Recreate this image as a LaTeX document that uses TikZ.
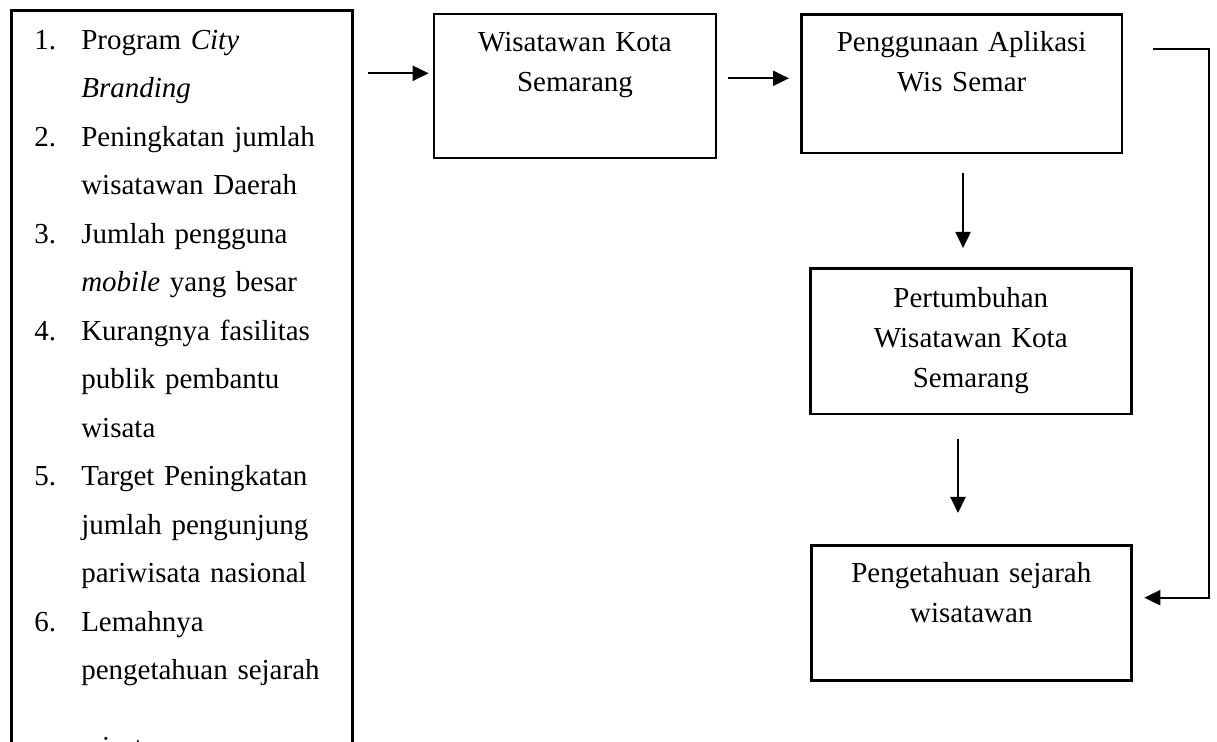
\documentclass[tikz,border=0pt]{standalone}
\usepackage{fontspec}
\setmainfont{Liberation Serif}
\usepackage{tikz}
\usetikzlibrary{arrows.meta,positioning,calc}

\newcommand{\numitem}[1]{\hspace*{11.5pt}\makebox[23.5pt][l]{#1}}
\newcommand{\contitem}{\hspace*{35pt}}

\tikzset{
        stage/.style={draw, line width=1.3pt, anchor=north west, inner xsep=0pt, inner ysep=0pt,
                align=center, font=\fontsize{14.5pt}{20pt}\selectfont},
        flow/.style={line width=1pt, -{Triangle[length=8pt,width=7.5pt]}}
}

\begin{document}
\begin{tikzpicture}[x=0.5pt, y=-0.5pt]
        \useasboundingbox (0,0) rectangle (1217,742);
        \clip (0,0) rectangle (1217,742);

        % latar belakang
        \node[draw, line width=1.3pt, anchor=north west, inner xsep=0pt, inner ysep=0pt,
                text width=170.5pt, align=left, text height=19.35pt, text depth=380pt,
                font=\fontsize{14.5pt}{24.25pt}\selectfont] (latar) at (10,9.3) {
                \numitem{1.}Program \textit{City}\\
                \contitem\textit{Branding}\\
                \numitem{2.}Peningkatan jumlah\\
                \contitem wisatawan Daerah\\
                \numitem{3.}Jumlah pengguna\\
                \contitem\textit{mobile} yang besar\\
                \numitem{4.}Kurangnya fasilitas\\
                \contitem publik pembantu\\
                \contitem wisata\\
                \numitem{5.}Target Peningkatan\\
                \contitem jumlah pengunjung\\
                \contitem pariwisata nasional\\
                \numitem{6.}Lemahnya\\
                \contitem pengetahuan sejarah\\[14pt]
                \contitem wisatawan
        };

        % alur
        \node[stage, text width=141pt, text height=18.65pt, text depth=53.35pt] (wisata) at (432.7,12.7)
                {Wisatawan Kota\\Semarang};
        \node[stage, text width=160.35pt, text height=18.35pt, text depth=50.85pt] (aplikasi) at (800,13.3)
                {Penggunaan Aplikasi\\Wis Semar};
        \node[stage, text width=160.5pt, text height=19.85pt, text depth=53pt] (tumbuh) at (809,267)
                {Pertumbuhan\\Wisatawan Kota\\Semarang};
        \node[stage, text width=160pt, text height=18.85pt, text depth=48.65pt] (sejarah) at (810,544)
                {Pengetahuan sejarah\\wisatawan};

        \coordinate (balik) at (1209,0);

        \draw[flow] ([xshift=7pt]latar.east |- 0,73.3) -- ([xshift=-2pt]wisata.west |- 0,73.3);
        \draw[flow] ([xshift=5.5pt]wisata.east |- 0,78.3) -- ([xshift=-5.5pt]aplikasi.west |- 0,78.3);
        \draw[flow, shorten <=9.15pt, shorten >=9.5pt] ([xshift=0.7pt]aplikasi.south) -- ([xshift=0.7pt]aplikasi.south |- tumbuh.north);
        \draw[flow, shorten <=11.65pt, shorten >=15.5pt] ([xshift=-6.4pt]tumbuh.south) -- ([xshift=-6.4pt]tumbuh.south |- sejarah.north);
        \draw[flow] ([xshift=15pt]aplikasi.east |- 0,49) -| (balik |- 0,597.7) -- ([xshift=5.85pt]sejarah.east |- 0,597.7);
\end{tikzpicture}
\end{document}
